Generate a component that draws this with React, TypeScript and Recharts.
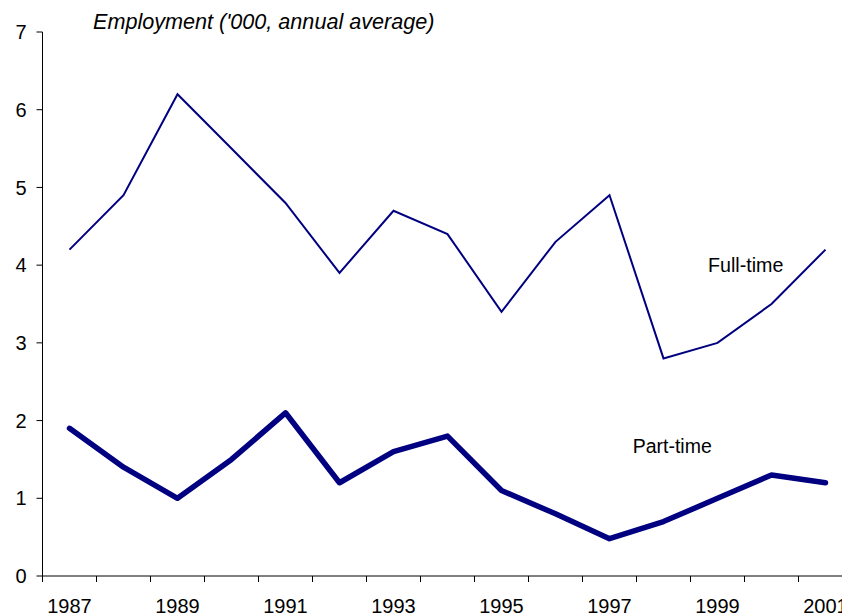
import React from "react";
import { LineChart, Line, XAxis, YAxis } from "recharts";

const years = [1987, 1988, 1989, 1990, 1991, 1992, 1993, 1994, 1995, 1996, 1997, 1998, 1999, 2000, 2001];
const fullTime = [4.2, 4.9, 6.2, 5.5, 4.8, 3.9, 4.7, 4.4, 3.4, 4.3, 4.9, 2.8, 3.0, 3.5, 4.2];
const partTime = [1.9, 1.4, 1.0, 1.5, 2.1, 1.2, 1.6, 1.8, 1.1, 0.8, 0.48, 0.7, 1.0, 1.3, 1.2];
const yTicks = [0, 1, 2, 3, 4, 5, 6, 7];
const titleText = "Employment ('000, annual average)";
const fullLabel = "Full-time";
const partLabel = "Part-time";

const data = years.map((year, i) => ({ year, full: fullTime[i], part: partTime[i] }));
const halfTicks = [...years.map((y) => y - 0.5), years[years.length - 1] + 0.5];

const CHART_W = 860;
const CHART_H = 616;
const MARGIN = { top: 32, right: 7.5, left: 0, bottom: 0 };
const Y_W = 42.5;
const PLOT_W = CHART_W - MARGIN.left - MARGIN.right - Y_W;
const BAND = PLOT_W / years.length;
const FONT = "'Liberation Sans', Arial, sans-serif";
const NAVY = "#000080";

const YearTick = (props: any) => {
  const { x, y, payload } = props;
  const year = payload.value + 0.5;
  if (year % 2 !== 1 || !years.includes(year)) return null;
  return (
    <text x={x + BAND / 2} y={y} dy="0.71em" textAnchor="middle" fontSize={20} fill="#000" fontFamily={FONT}>
      {year}
    </text>
  );
};

export default function App() {
  return (
    <div style={{ position: "absolute", left: 0, top: 0, width: 842, height: 616, overflow: "hidden", background: "#fff" }}>
      <LineChart width={CHART_W} height={CHART_H} data={data} margin={MARGIN}>
        <XAxis
          dataKey="year"
          type="number"
          domain={[halfTicks[0], halfTicks[halfTicks.length - 1]]}
          ticks={halfTicks}
          interval={0}
          tickSize={6}
          tickMargin={17}
          height={40}
          tick={<YearTick />}
          stroke="#000"
          axisLine={{ stroke: "#000", strokeWidth: 1 }}
          tickLine={{ stroke: "#000" }}
        />
        <YAxis
          domain={[0, 7]}
          ticks={yTicks}
          interval={0}
          width={Y_W}
          tickSize={6}
          tickMargin={10}
          tick={{ fontSize: 20, fill: "#000", fontFamily: FONT }}
          axisLine={{ stroke: "#000", strokeWidth: 1 }}
          tickLine={{ stroke: "#000" }}
        />
        <Line type="linear" dataKey="full" stroke={NAVY} strokeWidth={2} dot={false} isAnimationActive={false} />
        <Line type="linear" dataKey="part" stroke={NAVY} strokeWidth={5.5} dot={false} isAnimationActive={false} strokeLinejoin="round" strokeLinecap="round" />
      </LineChart>
      <svg width={842} height={616} style={{ position: "absolute", left: 0, top: 0, pointerEvents: "none" }}>
        <text x={93} y={28.5} fontSize={21.6} fontStyle="italic" fontFamily={FONT} fill="#000">{titleText}</text>
        <text x={708} y={271.7} fontSize={19.7} fontFamily={FONT} fill="#000">{fullLabel}</text>
        <text x={632.7} y={453.3} fontSize={19.5} fontFamily={FONT} fill="#000">{partLabel}</text>
      </svg>
    </div>
  );
}
